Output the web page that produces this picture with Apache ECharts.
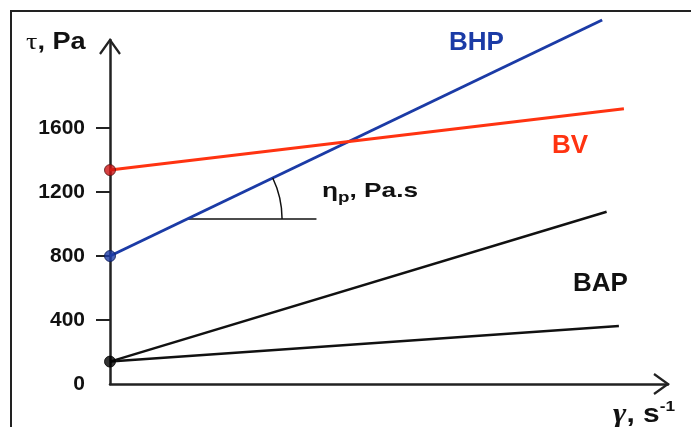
<!DOCTYPE html>
<html>
<head>
<meta charset="utf-8">
<script src="https://cdn.jsdelivr.net/npm/echarts@6/dist/echarts.min.js"></script>
<style>
html,body{margin:0;padding:0;background:#fff;}
#chart{width:691px;height:427px;}
</style>
</head>
<body>
<div id="chart"></div>
<script>
// ---- data (x: shear rate, arbitrary units 0..100; y: shear stress, Pa) ----
var yTickLabels = [0, 400, 800, 1200, 1600];
var yTickMarks = [400, 800, 1200, 1600];
var bhpData = [[0, 800], [88.2, 2275]];
var bvData = [[0, 1337], [92.1, 1720]];
var bapUpperData = [[0, 140], [89.0, 1077]];
var bapLowerData = [[0, 140], [91.2, 362]];
var angleLevel = 1031;      // stress level of the horizontal reference line
var angleLineEnd = 37;      // x where the reference line ends
var yMax = 2150;
var xMax = 100;

// start of the reference line: intersection with BHP
var bhpSlope = (bhpData[1][1] - bhpData[0][1]) / (bhpData[1][0] - bhpData[0][0]);
var angleStartX = (angleLevel - bhpData[0][1]) / bhpSlope;
var angleLine = [[angleStartX, angleLevel], [angleLineEnd, angleLevel]];

var BLUE = '#1b3ba6', RED = '#ff3311', BLACK = '#111111';
var FONT = 'Liberation Sans, Arial';

var chart = echarts.init(document.getElementById('chart'));
var option = {
  animation: false,
  backgroundColor: '#ffffff',
  grid: {left: 110, right: 23, top: 40, bottom: 43},
  xAxis: {
    type: 'value', min: 0, max: xMax,
    axisLine: {show: true, onZero: true, lineStyle: {color: '#222', width: 2.5}},
    axisTick: {show: false}, axisLabel: {show: false}, splitLine: {show: false}
  },
  yAxis: {
    type: 'value', min: 0, max: yMax,
    axisLine: {show: true, lineStyle: {color: '#222', width: 2.5}},
    axisTick: {show: true, inside: false, length: 14, customValues: yTickMarks,
      lineStyle: {color: '#222', width: 2}},
    axisLabel: {show: true, customValues: yTickLabels, margin: 25,
      fontFamily: FONT, fontSize: 21, fontWeight: 'bold', color: '#111',
      formatter: function (v) { return String(v); }},
    splitLine: {show: false}
  },
  series: [
    {name: 'BHP', type: 'line', data: bhpData, clip: false, symbol: 'none',
      lineStyle: {color: BLUE, width: 3}, z: 3},
    {name: 'BV', type: 'line', data: bvData, clip: false, symbol: 'none',
      lineStyle: {color: RED, width: 3}, z: 3},
    {name: 'BAP upper', type: 'line', data: bapUpperData, clip: false, symbol: 'none',
      lineStyle: {color: BLACK, width: 2.5}, z: 3},
    {name: 'BAP lower', type: 'line', data: bapLowerData, clip: false, symbol: 'none',
      lineStyle: {color: BLACK, width: 2.5}, z: 3},
    {name: 'angle', type: 'line', data: angleLine, clip: false, symbol: 'none',
      lineStyle: {color: BLACK, width: 1.5}, z: 2},
    {name: 'dots', type: 'scatter', clip: false, symbolSize: 11, z: 5,
      data: [
        {value: bvData[0], itemStyle: {color: '#cc1111', borderColor: '#551111', borderWidth: 1}},
        {value: bhpData[0], itemStyle: {color: '#1b3ba6', borderColor: '#0b1a55', borderWidth: 1}},
        {value: bapUpperData[0], itemStyle: {color: '#000', borderColor: '#000', borderWidth: 1}}
      ]}
  ]
};
chart.setOption(option);

function px(p) { return chart.convertToPixel({gridIndex: 0}, p); }
var yTip = px([0, yMax]);
var xTip = px([xMax, 0]);
var c = px(angleLine[0]);
var b0 = px(bhpData[0]), b1 = px(bhpData[1]);
var theta = Math.atan2(b1[1] - b0[1], b1[0] - b0[0]); // negative (upwards)
var r = 95;

chart.setOption({
  graphic: [
    {type: 'rect', shape: {x: 11, y: 11, width: 720, height: 500},
      style: {fill: 'none', stroke: '#222', lineWidth: 2}, z: 0},
    {type: 'polyline', shape: {points: [[yTip[0] - 10, yTip[1] + 14], yTip, [yTip[0] + 10, yTip[1] + 14]]},
      style: {stroke: '#222', lineWidth: 2.2, fill: 'none'}, z: 10},
    {type: 'polyline', shape: {points: [[xTip[0] - 14, xTip[1] - 10], xTip, [xTip[0] - 14, xTip[1] + 10]]},
      style: {stroke: '#222', lineWidth: 2.2, fill: 'none'}, z: 10},
    {type: 'arc', shape: {cx: c[0], cy: c[1], r: r, startAngle: theta, endAngle: 0, clockwise: true},
      style: {stroke: '#111', lineWidth: 1.5, fill: 'none'}, z: 10},
    {type: 'text', x: 26, y: 43, scaleX: 1.18, style: {
      text: '{t|τ}{s|, Pa}', verticalAlign: 'middle',
      rich: {t: {fontFamily: 'Liberation Serif, Times New Roman', fontSize: 24, fill: '#111'},
             s: {fontFamily: FONT, fontWeight: 'bold', fontSize: 23, fill: '#111'}}}, z: 10},
    {type: 'text', x: 449, y: 43, style: {text: 'BHP', fontFamily: FONT, fontWeight: 'bold',
      fontSize: 26, fill: BLUE, verticalAlign: 'middle'}, z: 10},
    {type: 'text', x: 552, y: 146, style: {text: 'BV', fontFamily: FONT, fontWeight: 'bold',
      fontSize: 26, fill: RED, verticalAlign: 'middle'}, z: 10},
    {type: 'text', x: 573, y: 284, style: {text: 'BAP', fontFamily: FONT, fontWeight: 'bold',
      fontSize: 26, fill: '#111', verticalAlign: 'middle'}, z: 10},
    {type: 'text', x: 322, y: 191, scaleX: 1.25, style: {
      text: '{a|η}{b|p}{a|, Pa.s}', verticalAlign: 'middle',
      rich: {a: {fontFamily: FONT, fontWeight: 'bold', fontSize: 21, fill: '#111'},
             b: {fontFamily: FONT, fontWeight: 'bold', fontSize: 15, fill: '#111', padding: [14, 0, 0, 0]}}}, z: 10},
    {type: 'text', x: 613, y: 415, scaleX: 1.15, style: {
      text: '{g|γ}{a|, s}{b|-1}', verticalAlign: 'middle',
      rich: {g: {fontFamily: 'Liberation Serif, Times New Roman', fontStyle: 'italic', fontWeight: 'bold', fontSize: 28, fill: '#111'},
             a: {fontFamily: FONT, fontWeight: 'bold', fontSize: 26, fill: '#111'},
             b: {fontFamily: FONT, fontWeight: 'bold', fontSize: 15, fill: '#111', padding: [0, 0, 16, 0]}}}, z: 10}
  ]
});
</script>
</body>
</html>
